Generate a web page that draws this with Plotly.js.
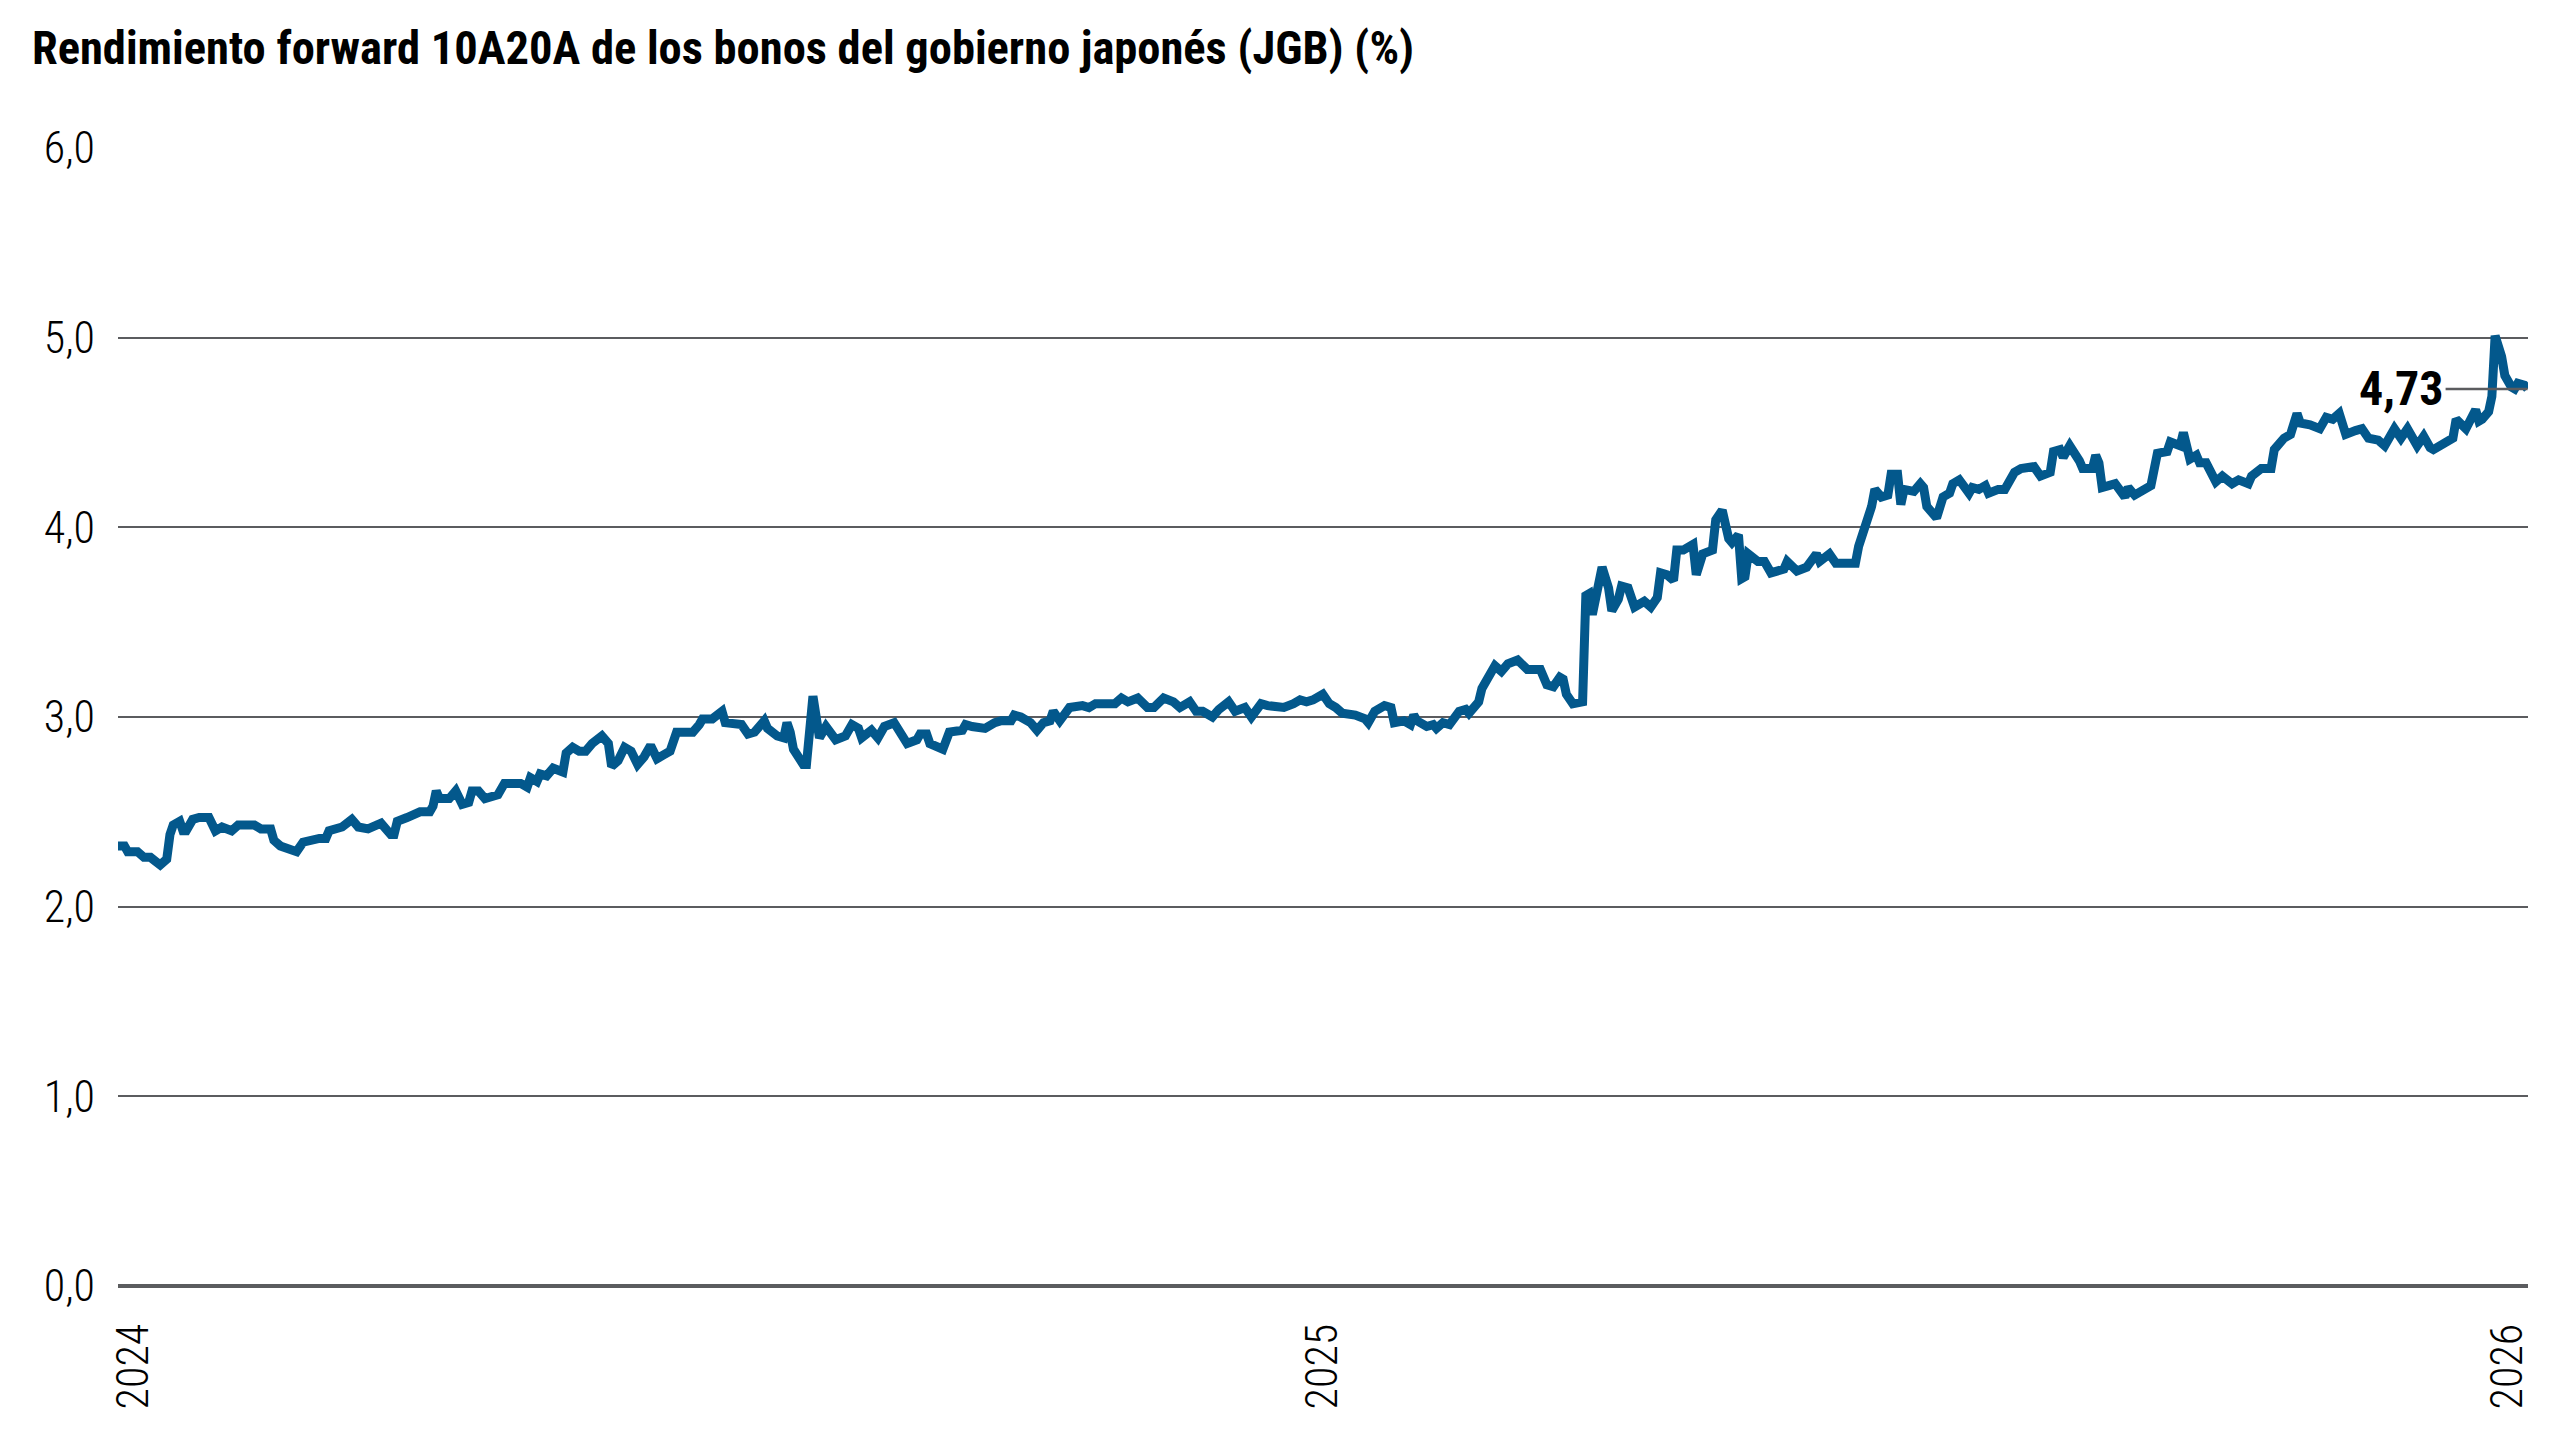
<!DOCTYPE html>
<html>
<head>
<meta charset="utf-8">
<script src="https://cdn.plot.ly/plotly-3.0.1.min.js"></script>
<style>
  html, body { margin: 0; padding: 0; background: #fff; }
  #grafico { width: 2560px; height: 1440px; }
</style>
</head>
<body>
<div id="grafico"></div>
<script>
const titulo = 'Rendimiento forward 10A20A de los bonos del gobierno japonés (JGB) (%)';

// fechas y rendimiento forward 10A20A (%)
const fechas2024 = [
  '2024-01-01','2024-01-03','2024-01-04','2024-01-07','2024-01-09','2024-01-11','2024-01-14','2024-01-16',
  '2024-01-17','2024-01-18','2024-01-20','2024-01-21','2024-01-22','2024-01-24','2024-01-26','2024-01-29',
  '2024-01-31','2024-02-02','2024-02-05','2024-02-07','2024-02-12','2024-02-14','2024-02-17','2024-02-18',
  '2024-02-20','2024-02-25','2024-02-27','2024-02-29','2024-03-03','2024-03-05','2024-03-06','2024-03-10',
  '2024-03-13','2024-03-15','2024-03-18','2024-03-22','2024-03-25','2024-03-26','2024-03-27','2024-03-30',
  '2024-04-01','2024-04-03','2024-04-06','2024-04-07','2024-04-08','2024-04-09','2024-04-12','2024-04-14',
  '2024-04-16','2024-04-18','2024-04-19','2024-04-21','2024-04-23','2024-04-25','2024-04-27','2024-04-29',
  '2024-05-04','2024-05-06','2024-05-07','2024-05-09','2024-05-10','2024-05-12','2024-05-14','2024-05-17',
  '2024-05-18','2024-05-20','2024-05-22','2024-05-24','2024-05-26','2024-05-29','2024-05-31','2024-06-01',
  '2024-06-03','2024-06-05','2024-06-07','2024-06-09','2024-06-11','2024-06-13','2024-06-15','2024-06-17',
  '2024-06-19','2024-06-21','2024-06-23','2024-06-26','2024-06-28','2024-06-29','2024-07-02','2024-07-05',
  '2024-07-06','2024-07-09','2024-07-11','2024-07-13','2024-07-15','2024-07-18','2024-07-19','2024-07-22',
  '2024-07-24','2024-07-25','2024-07-26','2024-07-27','2024-07-30','2024-07-31','2024-08-02','2024-08-04',
  '2024-08-06','2024-08-09','2024-08-12','2024-08-14','2024-08-16','2024-08-17','2024-08-20','2024-08-22',
  '2024-08-24','2024-08-27','2024-08-31','2024-09-03','2024-09-04','2024-09-06','2024-09-07','2024-09-11',
  '2024-09-13','2024-09-17','2024-09-18','2024-09-20','2024-09-24','2024-09-27','2024-09-29','2024-10-02',
  '2024-10-03','2024-10-05','2024-10-08','2024-10-10','2024-10-12','2024-10-14','2024-10-15','2024-10-17',
  '2024-10-20','2024-10-24','2024-10-26','2024-10-28','2024-10-31','2024-11-03','2024-11-05','2024-11-07',
  '2024-11-10','2024-11-13','2024-11-15','2024-11-18','2024-11-21','2024-11-23','2024-11-26','2024-11-28',
  '2024-11-30','2024-12-03','2024-12-05','2024-12-08','2024-12-10','2024-12-13','2024-12-15','2024-12-18',
  '2024-12-20','2024-12-23','2024-12-25','2024-12-28','2024-12-30'
];
const valores2024 = [
  2.32,2.32,2.29,2.29,2.26,2.26,2.22,2.25,
  2.38,2.43,2.45,2.40,2.40,2.46,2.47,2.47,
  2.40,2.42,2.40,2.43,2.43,2.41,2.41,2.35,
  2.32,2.29,2.34,2.35,2.36,2.36,2.40,2.42,
  2.46,2.42,2.41,2.44,2.38,2.38,2.45,2.47,
  2.48,2.50,2.50,2.53,2.61,2.57,2.57,2.61,
  2.54,2.55,2.61,2.61,2.57,2.58,2.59,2.65,
  2.65,2.63,2.68,2.66,2.70,2.69,2.73,2.71,
  2.81,2.84,2.82,2.82,2.86,2.90,2.86,2.74,
  2.77,2.84,2.82,2.75,2.79,2.85,2.78,2.80,
  2.82,2.92,2.92,2.92,2.96,2.99,2.99,3.03,
  2.97,2.965,2.96,2.91,2.92,2.98,2.94,2.90,
  2.89,2.97,2.92,2.83,2.75,2.75,3.11,2.89,
  2.95,2.88,2.90,2.96,2.94,2.89,2.93,2.89,
  2.95,2.97,2.86,2.88,2.91,2.91,2.86,2.83,
  2.92,2.93,2.96,2.95,2.94,2.97,2.98,2.98,
  3.01,3.00,2.97,2.93,2.97,2.98,3.03,2.98,
  3.05,3.06,3.05,3.07,3.07,3.07,3.10,3.08,
  3.10,3.05,3.05,3.10,3.08,3.05,3.08,3.03,
  3.03,3.00,3.04,3.08,3.03,3.05,3.00,3.07,
  3.06,3.05,3.05,3.07,3.09
];

const fechas2025 = [
  '2025-01-01','2025-01-03','2025-01-06','2025-01-08','2025-01-10','2025-01-12','2025-01-16','2025-01-19',
  '2025-01-20','2025-01-22','2025-01-25','2025-01-27','2025-01-28','2025-01-29','2025-01-31','2025-02-02',
  '2025-02-03','2025-02-04','2025-02-07','2025-02-09','2025-02-10','2025-02-12','2025-02-14','2025-02-17',
  '2025-02-19','2025-02-20','2025-02-23','2025-02-24','2025-02-28','2025-03-02','2025-03-04','2025-03-07',
  '2025-03-10','2025-03-14','2025-03-16','2025-03-18','2025-03-20','2025-03-21','2025-03-22','2025-03-24',
  '2025-03-27','2025-03-28','2025-03-29','2025-03-30','2025-04-02','2025-04-04','2025-04-05','2025-04-07',
  '2025-04-08','2025-04-10','2025-04-12','2025-04-15','2025-04-17','2025-04-19','2025-04-20','2025-04-22',
  '2025-04-24','2025-04-25','2025-04-27','2025-04-30','2025-05-01','2025-05-03','2025-05-05','2025-05-06',
  '2025-05-07','2025-05-09','2025-05-11','2025-05-12','2025-05-14','2025-05-15','2025-05-16','2025-05-17',
  '2025-05-20','2025-05-22','2025-05-24','2025-05-28','2025-05-29','2025-06-01','2025-06-04','2025-06-07',
  '2025-06-08','2025-06-11','2025-06-13','2025-06-19','2025-06-20','2025-06-22','2025-06-24','2025-06-25',
  '2025-06-27','2025-06-29','2025-06-30','2025-07-02','2025-07-03','2025-07-04','2025-07-07','2025-07-09',
  '2025-07-10','2025-07-11','2025-07-14','2025-07-16','2025-07-18','2025-07-19','2025-07-21','2025-07-24',
  '2025-07-25','2025-07-27','2025-07-29','2025-07-30','2025-08-02','2025-08-04','2025-08-06','2025-08-07',
  '2025-08-09','2025-08-12','2025-08-13','2025-08-15','2025-08-18','2025-08-19','2025-08-21','2025-08-22',
  '2025-08-24','2025-08-27','2025-08-28','2025-08-31','2025-09-01','2025-09-02','2025-09-03','2025-09-05',
  '2025-09-07','2025-09-10','2025-09-11','2025-09-13','2025-09-17','2025-09-18','2025-09-20','2025-09-23',
  '2025-09-24','2025-09-27','2025-09-28','2025-09-30','2025-10-02','2025-10-03','2025-10-05','2025-10-08',
  '2025-10-10','2025-10-13','2025-10-15','2025-10-18','2025-10-19','2025-10-22','2025-10-25','2025-10-26',
  '2025-10-29','2025-10-31','2025-11-02','2025-11-03','2025-11-06','2025-11-09','2025-11-11','2025-11-13',
  '2025-11-15','2025-11-17','2025-11-20','2025-11-22','2025-11-24','2025-11-27','2025-11-29','2025-12-02',
  '2025-12-04','2025-12-06','2025-12-09','2025-12-11','2025-12-13','2025-12-14','2025-12-17','2025-12-20',
  '2025-12-21','2025-12-24','2025-12-27','2025-12-28','2025-12-29','2025-12-31'
];
const valores2025 = [
  3.08,3.09,3.12,3.07,3.05,3.02,3.01,2.99,
  2.97,3.03,3.06,3.05,2.97,2.97,2.98,2.96,
  3.01,2.98,2.95,2.96,2.94,2.97,2.96,3.03,
  3.04,3.02,3.08,3.15,3.27,3.24,3.28,3.30,
  3.25,3.25,3.17,3.16,3.21,3.20,3.12,3.07,
  3.08,3.64,3.65,3.54,3.79,3.68,3.56,3.62,
  3.69,3.68,3.58,3.61,3.58,3.63,3.76,3.75,
  3.72,3.88,3.88,3.91,3.75,3.86,3.88,3.88,
  4.04,4.09,3.94,3.92,3.96,3.73,3.74,3.86,
  3.82,3.82,3.76,3.78,3.82,3.77,3.79,3.86,
  3.82,3.86,3.81,3.81,3.90,4.00,4.11,4.20,
  4.16,4.17,4.28,4.28,4.12,4.20,4.19,4.23,
  4.21,4.11,4.05,4.16,4.18,4.23,4.25,4.18,
  4.21,4.20,4.22,4.18,4.20,4.20,4.25,4.29,
  4.31,4.32,4.32,4.27,4.29,4.40,4.41,4.37,
  4.43,4.35,4.31,4.31,4.38,4.34,4.21,4.22,
  4.23,4.16,4.21,4.17,4.22,4.22,4.39,4.40,
  4.45,4.43,4.50,4.36,4.38,4.34,4.34,4.24,
  4.27,4.23,4.25,4.23,4.27,4.31,4.31,4.41,
  4.47,4.49,4.60,4.55,4.54,4.52,4.58,4.57,
  4.60,4.49,4.51,4.52,4.47,4.46,4.43,4.52,
  4.47,4.52,4.43,4.48,4.42,4.41,4.44,4.47,
  4.57,4.52,4.62,4.56,4.57,4.61
];

const fechas2026 = ['2026-01-01','2026-01-02','2026-01-04','2026-01-05','2026-01-07','2026-01-08','2026-01-09','2026-01-11','2026-01-12'];
const valores2026 = [4.69,5.01,4.90,4.80,4.74,4.73,4.76,4.75,4.73];

const anios = ['2024-01-01', '2025-01-01', '2026-01-01'];
const etiquetasAnio = ['2024', '2025', '2026'];
const ticksY = [0, 1, 2, 3, 4, 5, 6];

const fechas = fechas2024.concat(fechas2025, fechas2026);
const valores = valores2024.concat(valores2025, valores2026);

const ultimaFecha = fechas[fechas.length - 1];
const ultimoValor = valores[valores.length - 1];

const fuente = 'Roboto Condensed, Roboto, sans-serif';

const traza = {
  x: fechas,
  y: valores,
  type: 'scatter',
  mode: 'lines',
  line: { color: '#03588c', width: 9, shape: 'linear' },
  hoverinfo: 'skip'
};

const layout = {
  width: 2560,
  height: 1440,
  paper_bgcolor: '#ffffff',
  plot_bgcolor: '#ffffff',
  separators: ',.',
  showlegend: false,
  margin: { l: 118, r: 32, t: 148, b: 154 },
  title: {
    text: '<b>' + titulo + '</b>',
    x: 32 / 2560,
    xref: 'container',
    xanchor: 'left',
    y: 1 - 48 / 1440,
    yref: 'container',
    yanchor: 'middle',
    font: { family: fuente, size: 46.5, color: '#000000' }
  },
  xaxis: {
    type: 'date',
    range: ['2024-01-01', '2026-01-12 03:00'],
    tickvals: anios,
    ticktext: etiquetasAnio,
    tickangle: -90,
    ticks: '',
    showgrid: false,
    showline: false,
    zeroline: false,
    ticklabelshift: 16,
    ticklabelstandoff: 28,
    tickfont: { family: fuente, size: 44, color: '#000000', weight: 300 }
  },
  yaxis: {
    range: [0, 6],
    tickvals: ticksY,
    tickformat: '.1f',
    ticks: '',
    showline: false,
    showgrid: true,
    gridcolor: '#5b5c5f',
    gridwidth: 2,
    zeroline: true,
    zerolinecolor: '#5b5c5f',
    zerolinewidth: 4,
    ticklabelstandoff: 22,
    tickfont: { family: fuente, size: 44, color: '#000000', weight: 300 }
  },
  annotations: [{
    x: ultimaFecha,
    y: ultimoValor,
    xref: 'x',
    yref: 'y',
    text: '<b>' + ultimoValor.toFixed(2).replace('.', ',') + '</b>',
    showarrow: true,
    arrowhead: 0,
    arrowwidth: 2.5,
    arrowcolor: '#5b5c5f',
    standoff: 0,
    ax: -126,
    ay: 0,
    font: { family: fuente, size: 48, color: '#000000' }
  }]
};

Plotly.newPlot('grafico', [traza], layout, { staticPlot: true, displayModeBar: false });
</script>
</body>
</html>
